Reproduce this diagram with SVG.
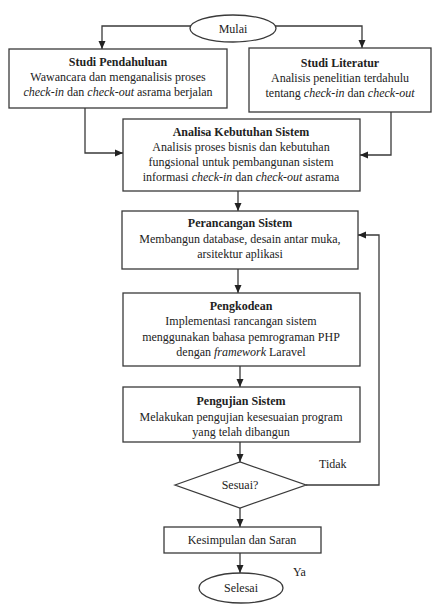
<svg xmlns="http://www.w3.org/2000/svg" width="433" height="604" viewBox="0 0 433 604" font-family="'Liberation Serif', 'Times New Roman', Tinos, 'DejaVu Serif', serif">
  <style>
    .box { fill: #ffffff; stroke: #3a3a3a; stroke-width: 1.3; }
    .line { fill: none; stroke: #3a3a3a; stroke-width: 1.3; }
    text { font-family: 'Liberation Serif', 'Times New Roman', Tinos, 'DejaVu Serif', serif; font-size: 12px; fill: #222222; text-anchor: middle; }
    .b { font-weight: bold; }
    .i { font-style: italic; }
    .lbl { text-anchor: start; }
  </style>
  <defs>
    <marker id="arrow" markerUnits="userSpaceOnUse" markerWidth="8" markerHeight="8" viewBox="0 0 8 8" refX="8" refY="4" orient="auto">
      <path d="M0,0.5 L8,4 L0,7.5 Z" fill="#222222"/>
    </marker>
  </defs>
  <rect width="433" height="604" fill="#ffffff"/>

  <g id="connectors">
    <polyline class="line" points="191,26 102,26 102,49" marker-end="url(#arrow)"/>
    <polyline class="line" points="275,26 362,26 362,48" marker-end="url(#arrow)"/>
    <polyline class="line" points="85,108 85,153 123,153" marker-end="url(#arrow)"/>
    <polyline class="line" points="391,112 391,155 360,155" marker-end="url(#arrow)"/>
    <line class="line" x1="238" y1="191" x2="238" y2="211" marker-end="url(#arrow)"/>
    <line class="line" x1="238" y1="269" x2="238" y2="293" marker-end="url(#arrow)"/>
    <line class="line" x1="240" y1="366" x2="240" y2="387" marker-end="url(#arrow)"/>
    <line class="line" x1="240" y1="442" x2="240" y2="462" marker-end="url(#arrow)"/>
    <line class="line" x1="240" y1="508" x2="240" y2="527" marker-end="url(#arrow)"/>
    <line class="line" x1="240" y1="553" x2="240" y2="573" marker-end="url(#arrow)"/>
    <polyline class="line" points="306,485 379,485 379,235 358,235" marker-end="url(#arrow)"/>
    <text class="lbl" x="319" y="468">Tidak</text>
    <text class="lbl" x="293" y="576">Ya</text>
  </g>

  <g id="mulai">
    <ellipse class="box" cx="233" cy="28.5" rx="43" ry="13.5"/>
    <text x="233" y="32.5">Mulai</text>
  </g>

  <g id="studi-pendahuluan">
    <rect class="box" x="9" y="49" width="218" height="59"/>
    <text class="b" x="118" y="66">Studi Pendahuluan</text>
    <text x="118" y="81">Wawancara dan menganalisis proses</text>
    <text x="118" y="95.5"><tspan class="i">check-in</tspan> dan <tspan class="i">check-out</tspan> asrama berjalan</text>
  </g>

  <g id="studi-literatur">
    <rect class="box" x="249" y="48" width="182" height="64"/>
    <text class="b" x="340" y="67">Studi Literatur</text>
    <text x="340" y="82">Analisis penelitian terdahulu</text>
    <text x="340" y="96.5">tentang <tspan class="i">check-in</tspan> dan <tspan class="i">check-out</tspan></text>
  </g>

  <g id="analisa-kebutuhan">
    <rect class="box" x="123" y="119" width="237" height="72"/>
    <text class="b" x="241" y="136">Analisa Kebutuhan Sistem</text>
    <text x="241" y="151">Analisis proses bisnis dan kebutuhan</text>
    <text x="241" y="166">fungsional untuk pembangunan sistem</text>
    <text x="241" y="181">informasi <tspan class="i">check-in</tspan> dan <tspan class="i">check-out</tspan> asrama</text>
  </g>

  <g id="perancangan">
    <rect class="box" x="122" y="211" width="236" height="58"/>
    <text class="b" x="240" y="227">Perancangan Sistem</text>
    <text x="240" y="243">Membangun database, desain antar muka,</text>
    <text x="240" y="258">arsitektur aplikasi</text>
  </g>

  <g id="pengkodean">
    <rect class="box" x="123" y="293" width="237" height="73"/>
    <text class="b" x="241" y="310">Pengkodean</text>
    <text x="241" y="325">Implementasi rancangan sistem</text>
    <text x="241" y="341">menggunakan bahasa pemrograman PHP</text>
    <text x="241" y="356">dengan <tspan class="i">framework</tspan> Laravel</text>
  </g>

  <g id="pengujian">
    <rect class="box" x="123" y="387" width="237" height="55"/>
    <text class="b" x="241" y="405">Pengujian Sistem</text>
    <text x="241" y="421">Melakukan pengujian kesesuaian program</text>
    <text x="241" y="436">yang telah dibangun</text>
  </g>

  <g id="sesuai">
    <polygon class="box" points="175,485 240,462 306,485 240,508"/>
    <text x="240" y="489">Sesuai?</text>
  </g>

  <g id="kesimpulan">
    <rect class="box" x="164" y="527" width="157" height="26"/>
    <text x="242" y="544">Kesimpulan dan Saran</text>
  </g>

  <g id="selesai">
    <ellipse class="box" cx="241" cy="588" rx="42" ry="15"/>
    <text x="241" y="592">Selesai</text>
  </g>
</svg>
